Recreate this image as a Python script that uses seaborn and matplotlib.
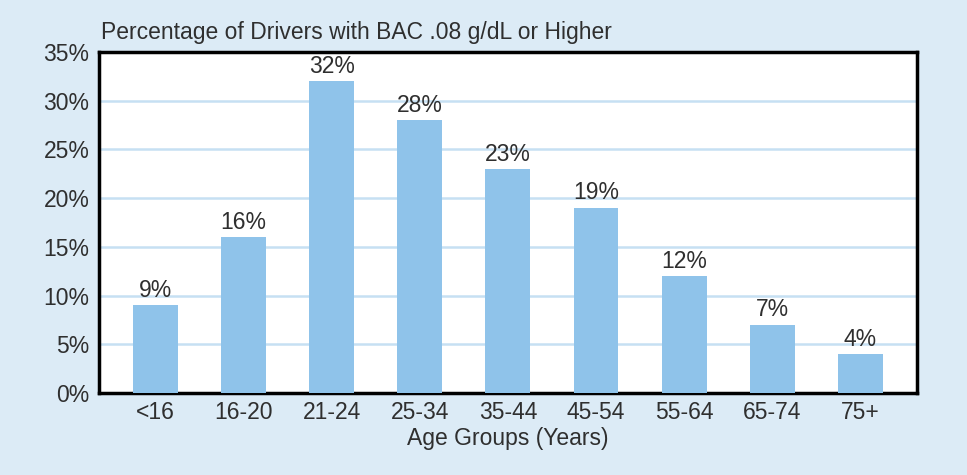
import matplotlib
matplotlib.use("Agg")
import matplotlib.pyplot as plt
import seaborn as sns
import pandas as pd

categories = ["<16", "16-20", "21-24", "25-34", "35-44", "45-54", "55-64", "65-74", "75+"]
values = [9, 16, 32, 28, 23, 19, 12, 7, 4]
yticks = [0, 5, 10, 15, 20, 25, 30, 35]

df = pd.DataFrame({"age": categories, "pct": values})

sns.set_theme(style="white")
plt.rcParams["font.family"] = ["Liberation Sans", "DejaVu Sans"]

BG = "#dcebf6"
BAR = "#8fc3ea"
GRID = "#c6e0f3"
TXT = "#2f2f2f"
FS = 16.5

fig = plt.figure(figsize=(9.67, 4.75), dpi=100, facecolor=BG)
ax = fig.add_axes([0.1024, 0.1726, 0.8456, 0.7179])
ax.set_facecolor("white")

sns.barplot(data=df, x="age", y="pct", color=BAR, width=0.51, saturation=1,
            edgecolor="none", linewidth=0, ax=ax, zorder=3)

ax.set_ylim(0, 35)
ax.set_xlim(-0.64, 8.64)
ax.set_yticks(yticks)
ax.set_yticklabels([f"{v}%" for v in yticks], fontsize=FS, color=TXT)
ax.tick_params(axis="x", labelsize=FS, labelcolor=TXT, length=0, pad=6)
ax.tick_params(axis="y", length=0, pad=7)
for y in yticks[1:-1]:
    ax.axhline(y, color=GRID, lw=1.8, zorder=1)

for i, v in enumerate(values):
    ax.text(i, v + 0.35, f"{v}%", ha="center", va="bottom", fontsize=FS, color=TXT, zorder=4)

for s in ax.spines.values():
    s.set_visible(True)
    s.set_color("black")
    s.set_linewidth(2.5)

ax.set_xlabel("Age Groups (Years)", fontsize=FS, color=TXT, labelpad=2)
ax.set_ylabel("")
fig.text(0.104, 0.907, "Percentage of Drivers with BAC .08 g/dL or Higher", fontsize=FS, color=TXT, ha="left", va="bottom")

fig.savefig("out.png", dpi=100, facecolor=BG)
